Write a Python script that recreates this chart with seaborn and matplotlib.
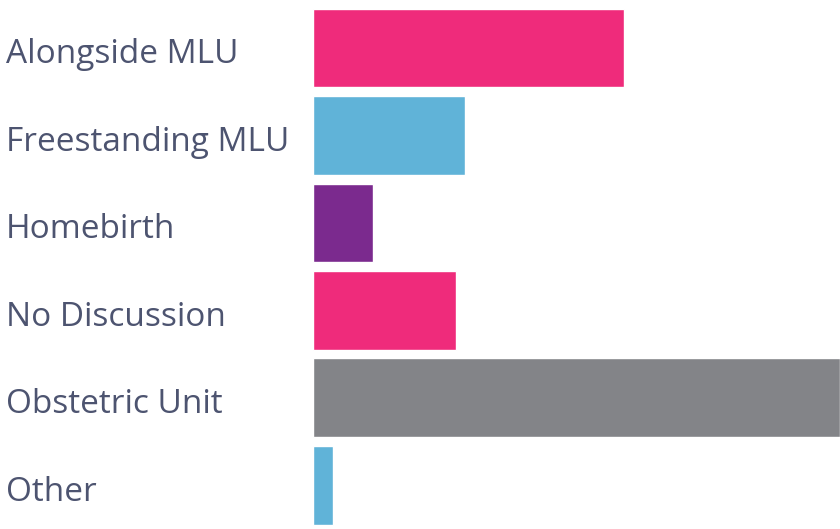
import matplotlib
matplotlib.use("Agg")
import matplotlib.pyplot as plt
import matplotlib.transforms as mtransforms
import seaborn as sns
import pandas as pd

categories = ["Alongside MLU", "Freestanding MLU", "Homebirth", "No Discussion", "Obstetric Unit", "Other"]
values = [311, 152, 60, 143, 527, 20]
colors = ["#ef2b7b", "#60b3d8", "#7b2a8e", "#ef2b7b", "#838488", "#60b3d8"]

sns.set_theme(style="white")
plt.rcParams['font.family'] = ['Open Sans', 'DejaVu Sans']

df = pd.DataFrame({"category": categories, "value": values})

fig = plt.figure(figsize=(8.4, 5.29), dpi=100)
ax = fig.add_axes([313/840, 0.0, 1 - 313/840, 1 - 4.25/529])
sns.barplot(data=df, y="category", x="value", hue="category", palette=colors,
            order=categories, hue_order=categories, width=0.9, legend=False,
            saturation=1, ax=ax, orient="h")
ax.set_xlim(0, 527)
ax.set_ylim(5.5, -0.5)
ax.set_xlabel("")
ax.set_ylabel("")
ax.set_xticks([])
for s in ax.spines.values():
    s.set_visible(False)
ax.tick_params(axis="y", length=0, pad=307 * 0.72)
shift = mtransforms.ScaledTranslation(0, -3 / 100, fig.dpi_scale_trans)
for lbl in ax.get_yticklabels():
    lbl.set_ha("left")
    lbl.set_fontsize(24)
    lbl.set_color("#4d5470")
    lbl.set_transform(lbl.get_transform() + shift)

fig.savefig("out.png", dpi=100)
